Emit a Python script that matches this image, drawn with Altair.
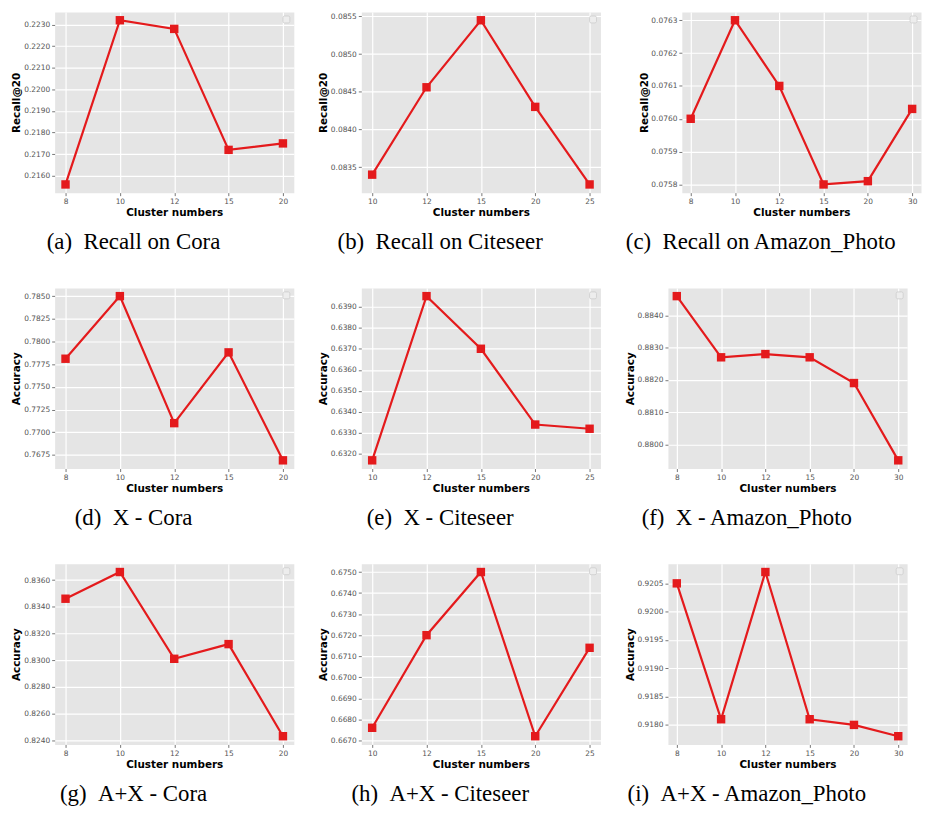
import altair as alt
import pandas as pd

# ---------------- data ----------------
k_cora = [8, 10, 12, 15, 20]
k_cite = [10, 12, 15, 20, 25]
k_amz = [8, 10, 12, 15, 20, 30]

recall_cora = [0.2156, 0.2232, 0.2228, 0.2172, 0.2175]
recall_cite = [0.0834, 0.08456, 0.08545, 0.0843, 0.08327]
recall_amz = [0.0760, 0.0763, 0.0761, 0.0758, 0.07581, 0.07603]

x_cora = [0.7781, 0.7850, 0.7710, 0.7788, 0.7669]
x_cite = [0.6317, 0.6395, 0.6370, 0.6334, 0.6332]
x_amz = [0.8846, 0.8827, 0.8828, 0.8827, 0.8819, 0.8795]

ax_cora = [0.8346, 0.8366, 0.8301, 0.8312, 0.8243]
ax_cite = [0.6676, 0.6720, 0.6750, 0.6672, 0.6714]
ax_amz = [0.9205, 0.9181, 0.9207, 0.9181, 0.9180, 0.9178]

ticks_a = [0.2160, 0.2170, 0.2180, 0.2190, 0.2200, 0.2210, 0.2220, 0.2230]
ticks_b = [0.0835, 0.0840, 0.0845, 0.0850, 0.0855]
ticks_c = [0.0758, 0.0759, 0.0760, 0.0761, 0.0762, 0.0763]
ticks_d = [0.7675, 0.7700, 0.7725, 0.7750, 0.7775, 0.7800, 0.7825, 0.7850]
ticks_e = [0.6320, 0.6330, 0.6340, 0.6350, 0.6360, 0.6370, 0.6380, 0.6390]
ticks_f = [0.8800, 0.8810, 0.8820, 0.8830, 0.8840]
ticks_g = [0.8240, 0.8260, 0.8280, 0.8300, 0.8320, 0.8340, 0.8360]
ticks_h = [0.6670, 0.6680, 0.6690, 0.6700, 0.6710, 0.6720, 0.6730, 0.6740, 0.6750]
ticks_i = [0.9180, 0.9185, 0.9190, 0.9195, 0.9200, 0.9205]

captions = [
    "(a)\u2002Recall on Cora", "(b)\u2002Recall on Citeseer", "(c)\u2002Recall on Amazon_Photo",
    "(d)\u2002X - Cora", "(e)\u2002X - Citeseer", "(f)\u2002X - Amazon_Photo",
    "(g)\u2002A+X - Cora", "(h)\u2002A+X - Citeseer", "(i)\u2002A+X - Amazon_Photo",
]

RED = "#E41A1C"
W, H = 241, 182


def panel(ks, vals, ytitle, ticks, caption):
    df = pd.DataFrame({"k": ks, "v": vals})
    lo, hi = min(vals), max(vals)
    pad = (hi - lo) * 0.05
    x = alt.X("k:O", title="Cluster numbers",
              scale=alt.Scale(type="point", padding=0.2),
              axis=alt.Axis(labelAngle=0))
    y = alt.Y("v:Q", title=ytitle,
              scale=alt.Scale(domain=[lo - pad, hi + pad], zero=False, nice=False),
              axis=alt.Axis(values=ticks, format=".4f", minExtent=30, maxExtent=30))
    base = alt.Chart(df).encode(x=x, y=y)
    line = base.mark_line(color=RED, strokeWidth=2.2)
    pts = base.mark_square(color=RED, size=72, opacity=1, filled=True)
    box = alt.Chart(alt.Data(values=[{"a": 1}])).mark_rect(
        fill="#EDEDED", stroke="#CCCCCC", strokeWidth=0.8, cornerRadius=1.5
    ).encode(x=alt.value(W - 11), x2=alt.value(W - 4), y=alt.value(4), y2=alt.value(11))
    return alt.layer(line, pts, box).properties(
        width=W, height=H,
        title=alt.TitleParams(text=caption, orient="bottom", anchor="middle", frame="group",
                              font="Liberation Serif", fontSize=23, fontWeight="normal",
                              color="black", dx=-41, offset=13),
    )


row1 = alt.hconcat(
    panel(k_cora, recall_cora, "Recall@20", ticks_a, captions[0]),
    panel(k_cite, recall_cite, "Recall@20", ticks_b, captions[1]),
    panel(k_amz, recall_amz, "Recall@20", ticks_c, captions[2]),
    spacing=23,
)
row2 = alt.hconcat(
    panel(k_cora, x_cora, "Accuracy", ticks_d, captions[3]),
    panel(k_cite, x_cite, "Accuracy", ticks_e, captions[4]),
    panel(k_amz, x_amz, "Accuracy", ticks_f, captions[5]),
    spacing=23,
)
row3 = alt.hconcat(
    panel(k_cora, ax_cora, "Accuracy", ticks_g, captions[6]),
    panel(k_cite, ax_cite, "Accuracy", ticks_h, captions[7]),
    panel(k_amz, ax_amz, "Accuracy", ticks_i, captions[8]),
    spacing=23,
)

chart = alt.vconcat(row1, row2, row3, spacing=32).properties(
    padding={"left": 3, "top": 0, "right": 0, "bottom": 0}
).configure_view(
    fill="#E5E5E5", stroke="transparent"
).configure_axis(
    domain=False,
    grid=True, gridColor="#FFFFFF", gridWidth=1.2,
    tickColor="#555555", tickSize=3, tickWidth=0.8,
    labelFont="DejaVu Sans", labelFontSize=7.5, labelColor="#555555", labelPadding=2,
    titleFont="DejaVu Sans", titleFontSize=10.5, titleFontWeight="bold", titleColor="#000000",
    titlePadding=3,
).configure_axisX(titlePadding=3)

chart.save("out.html", embed_options={"renderer": "svg", "actions": False})
